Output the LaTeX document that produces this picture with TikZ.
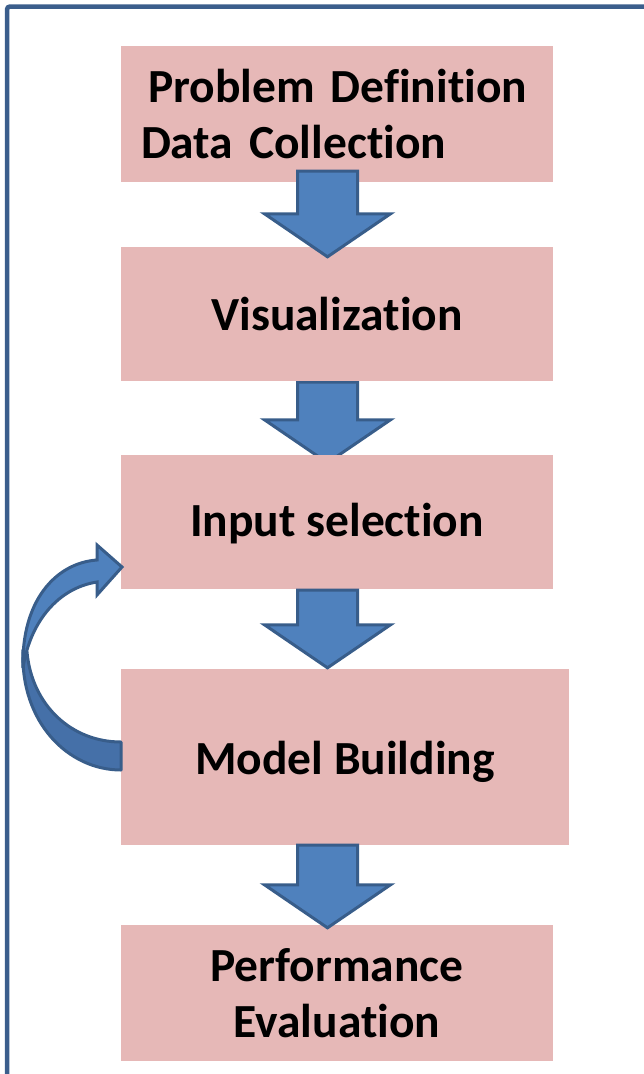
\documentclass[tikz,border=0pt]{standalone}
\usepackage{fontspec}
\setmainfont[Ligatures={NoCommon,NoContextual}]{Carlito}
\usetikzlibrary{calc}
\pgfdeclarelayer{bg}
\pgfsetlayers{bg,main}
\definecolor{boxpink}{HTML}{E6B8B7}
\definecolor{arrfill}{HTML}{4F81BD}
\definecolor{arrdark}{HTML}{4570A8}
\definecolor{arrline}{HTML}{385D8A}
\definecolor{framec}{HTML}{3B5E8C}
\tikzset{
  box/.style={fill=boxpink, draw=none, inner sep=0pt, text=black,
    font=\fontsize{47.5}{56}\selectfont\bfseries, align=center},
  barrow/.style={fill=arrfill, draw=arrline, line width=3pt, line join=miter},
  framebox/.style={draw=framec, line width=4.5pt, rounded corners=3pt}
}
\newcommand{\blockarrow}[2]{%
  \draw[barrow] let \p1=(#1), \p2=(#2) in
    (\x1-30pt,\y1) -- (\x1+30pt,\y1) -- (\x1+30pt,\y2+43pt) -- (\x1+63pt,\y2+43pt)
    -- (\x1,\y2) -- (\x1-63pt,\y2+43pt) -- (\x1-30pt,\y2+43pt) -- cycle;}
\begin{document}
\begin{tikzpicture}[x=1pt,y=-1pt]
\useasboundingbox (0,0) rectangle (644,1074);
\begin{scope}
  \clip (0,0) rectangle (644,1074);
  \draw[framebox] (7,6.5) rectangle (720,1130);
\end{scope}

\node[box, minimum width=432pt, minimum height=136pt, text width=432pt, align=left] (b1) at (337,114)
  {\hspace*{27pt}Problem Definition\\\hspace*{20pt}Data Collection};
\node[box, minimum width=432pt, minimum height=134pt] (b2) at (337,314) {Visualization};
\node[box, minimum width=432pt, minimum height=134pt, text height=39pt, text depth=10pt] (b3) at (337,522) {Input selection};
\node[box, minimum width=448pt, minimum height=176pt, text height=45pt, text depth=10pt] (b4) at (345,757) {Model Building};
\node[box, minimum width=432pt, minimum height=136pt] (b5) at (337,993) {Performance\\Evaluation};

\blockarrow{$(b1.south)+(-9.5,-11)$}{$(b2.north)+(-9.5,10)$}
\begin{pgfonlayer}{bg}
\blockarrow{$(b2.south)+(-9.5,1)$}{$(b3.north)+(-9.5,8)$}
\end{pgfonlayer}
\blockarrow{$(b3.south)+(-9.5,1)$}{$(b4.north)+(-17.5,-1)$}
\blockarrow{$(b4.south)+(-17.5,0)$}{$(b5.north)+(-17.5,3)$}

% curved feedback arrow from Model Building back to Input selection
\draw[fill=arrdark, draw=arrline, line width=3pt, line join=round]
  (23,650) .. controls (20,722) and (68,770) .. (121,770) -- (121,742)
  .. controls (72,742) and (32,706) .. (27,652) -- cycle;
\draw[fill=arrfill, draw=arrline, line width=3pt, line join=miter]
  (23,668) .. controls (21,602) and (55,563) .. (97,560) -- (97,545) -- (122,567)
  -- (97,595) -- (97,582) .. controls (58,588) and (30,622) .. (23,668) -- cycle;
\end{tikzpicture}
\end{document}
